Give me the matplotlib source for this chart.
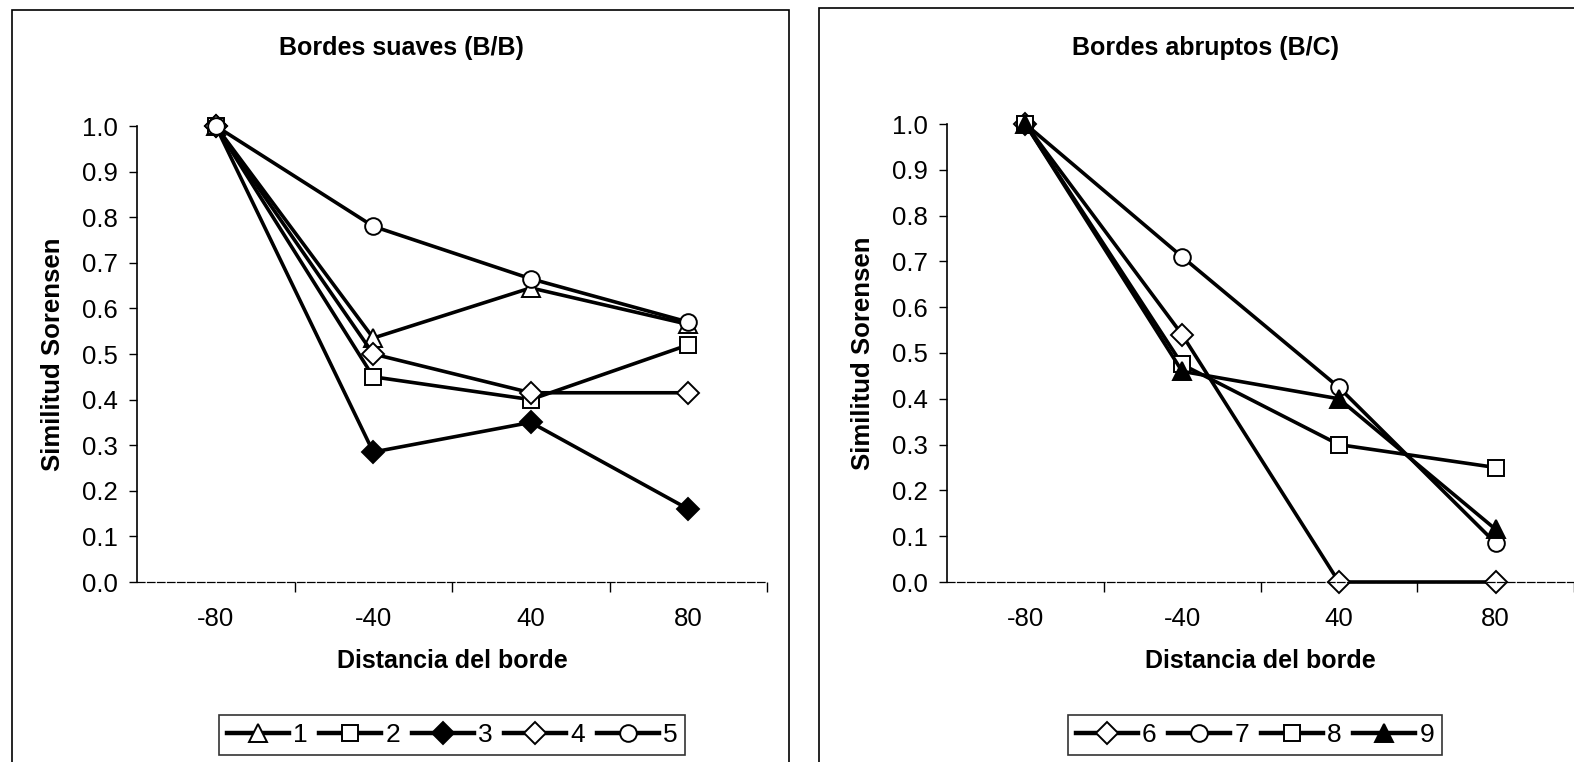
import numpy as np
import matplotlib
matplotlib.use('Agg')
import matplotlib.pyplot as plt
from matplotlib.patches import Rectangle

plt.rcParams['font.family'] = ['Liberation Sans', 'DejaVu Sans']

# categorias del eje x (distancia del borde)
x_labels = ['-80', '-40', '40', '80']

# Bordes suaves (B/B)
s1 = [1.0, 0.535, 0.645, 0.565]
s2 = [1.0, 0.45, 0.40, 0.52]
s3 = [1.0, 0.285, 0.35, 0.16]
s4 = [1.0, 0.50, 0.415, 0.415]
s5 = [1.0, 0.78, 0.665, 0.57]

# Bordes abruptos (B/C)
s6 = [1.0, 0.54, 0.0, 0.0]
s7 = [1.0, 0.71, 0.425, 0.085]
s8 = [1.0, 0.475, 0.30, 0.25]
s9 = [1.0, 0.46, 0.40, 0.115]

left_series = [('1', s1, '^', 'white'), ('2', s2, 's', 'white'), ('3', s3, 'D', 'black'),
               ('4', s4, 'D', 'white'), ('5', s5, 'o', 'white')]
right_series = [('6', s6, 'D', 'white'), ('7', s7, 'o', 'white'), ('8', s8, 's', 'white'),
                ('9', s9, '^', 'black')]

W, H = 1574, 762
fig = plt.figure(figsize=(W / 100, H / 100), dpi=100)

# marcos exteriores de cada grafico
fig.patches.append(Rectangle((12 / W, -0.05), (789 - 12) / W, 1 - 10 / H + 0.05,
                             transform=fig.transFigure, fill=False, ec='black', lw=1.2))
fig.patches.append(Rectangle((819 / W, -0.05), 0.5, 1 - 8 / H + 0.05,
                             transform=fig.transFigure, fill=False, ec='black', lw=1.2))

ax1 = fig.add_axes([137 / W, 1 - 582 / H, 630 / W, 456 / H])
ax2 = fig.add_axes([947 / W, 1 - 582 / H, 627 / W, 458 / H])


def style(ax, series, title, title_x, legend_x):
    x = np.arange(len(x_labels))
    handles = []
    for name, vals, mk, fc in series:
        ms = 13 if mk == '^' else (11 if mk == 'D' else 12)
        h, = ax.plot(x, vals, color='black', lw=2.6, marker=mk, ms=ms,
                     mfc=fc, mec='black', mew=1.4, label=name, clip_on=False)
        handles.append(h)
    ax.set_xlim(-0.5, len(x_labels) - 0.5)
    ax.set_ylim(0, 1.0)
    ax.set_yticks(np.arange(0, 1.01, 0.1))
    ax.set_yticklabels([f'{v:.1f}' for v in np.arange(0, 1.01, 0.1)])
    ax.set_xticks(x)
    ax.set_xticklabels(x_labels)
    ax.set_xticks(np.arange(0.5, len(x_labels), 1.0), minor=True)
    ax.tick_params(axis='x', which='major', length=0, pad=18, labelsize=18.5)
    ax.tick_params(axis='x', which='minor', length=7, width=1, direction='out')
    ax.tick_params(axis='y', length=6, width=1, direction='out', pad=8, labelsize=18.5)
    for sp in ['top', 'right']:
        ax.spines[sp].set_visible(False)
    ax.spines['left'].set_linewidth(1.2)
    ax.spines['bottom'].set_linewidth(0.9)
    ax.spines['bottom'].set_linestyle((0, (6, 2)))
    ax.set_ylabel('Similitud Sorensen', fontsize=18.5, fontweight='bold', labelpad=12)
    ax.set_xlabel('Distancia del borde', fontsize=18, fontweight='bold', labelpad=13)
    fig.text(title_x / W, 1 - 48 / H, title, fontsize=18, fontweight='bold',
             ha='center', va='center')
    leg = fig.legend(handles=handles, loc='upper center', ncol=len(handles),
                     bbox_to_anchor=(legend_x / W, 1 - 715 / H), fontsize=19,
                     frameon=True, fancybox=False, edgecolor='black',
                     handlelength=2.35, handletextpad=0.15, columnspacing=0.45,
                     borderpad=0.3, borderaxespad=0)
    leg.get_frame().set_linewidth(1.2)
    for lh in leg.get_lines():
        lh.set_linewidth(3.2)


style(ax1, left_series, 'Bordes suaves (B/B)', 401, 452)
style(ax2, right_series, 'Bordes abruptos (B/C)', 1205, 1255)

fig.savefig('out.png', dpi=100)
